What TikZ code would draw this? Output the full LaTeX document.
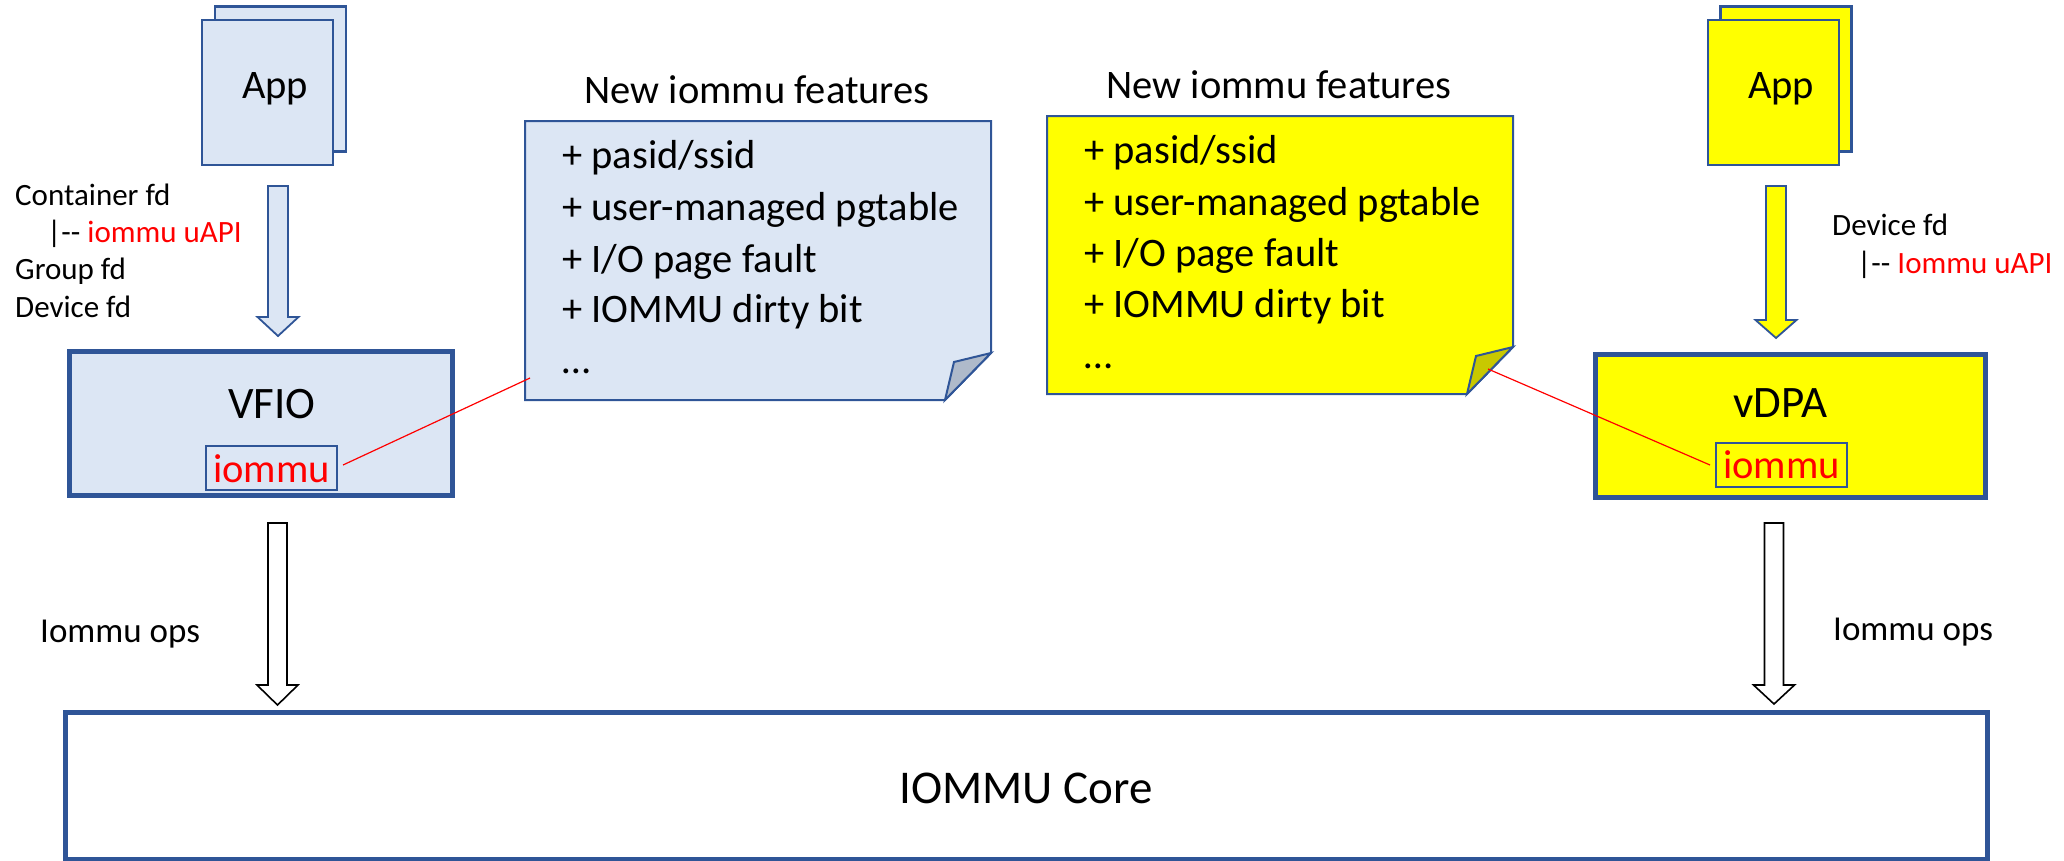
\documentclass[tikz,border=0pt]{standalone}
\usepackage{fontspec}
\setmainfont{Carlito}
\usetikzlibrary{calc}
\definecolor{lblue}{HTML}{DCE6F4}
\definecolor{bdr}{HTML}{2F5597}
\definecolor{foldblue}{HTML}{AFBACA}
\definecolor{yel}{HTML}{FFFF00}
\definecolor{foldyel}{HTML}{C8C800}
\definecolor{rd}{HTML}{FF0000}
\newcommand\blkarrow[7]{%
  \draw[#1] ({#2-#6},#3) -- ({#2+#6},#3) -- ({#2+#6},#4) -- ({#2+#7},#4) -- (#2,#5) -- ({#2-#7},#4) -- ({#2-#6},#4) -- cycle;}
\begin{document}
\begin{tikzpicture}[x=1pt,y=-1pt,
  appbox/.style={draw=bdr, line width=2.5pt, inner sep=0, outer sep=0, minimum width=131pt, minimum height=145pt},
  bigbox/.style={draw=bdr, line width=5pt, inner sep=0, outer sep=0},
  mmubox/.style={draw=bdr, line width=2pt, inner sep=0, outer sep=0, minimum width=131pt, minimum height=44pt},
  notebox/.style={draw=bdr, line width=2pt, line join=miter},
  upblock/.style={draw=bdr, line width=1.8pt, line join=miter},
  opsblock/.style={draw=black, fill=white, line width=1.6pt, line join=miter},
  redline/.style={draw=rd, line width=1.2pt},
  lbl/.style={inner sep=0, anchor=base west},
  ctr/.style={inner sep=0, anchor=base},
  fsmall/.style={font=\fontsize{31pt}{37pt}\selectfont},
  fnote/.style={font=\fontsize{40.5pt}{49pt}\selectfont},
  fbig/.style={font=\fontsize{45pt}{54pt}\selectfont},
  fops/.style={font=\fontsize{35pt}{42pt}\selectfont},
]
\useasboundingbox (0,0) rectangle (2064,860);

% ---------- App stacks ----------
\node[appbox, fill=lblue] (appLb) at (280.5,79) {};
\node[appbox, fill=lblue] (appL) at (267.5,92.5) {};
\node[ctr, fnote] (appLt) at (275,98) {App};
\node[appbox, fill=yel] (appRb) at (1786,79) {};
\node[appbox, fill=yel] (appR) at (1773.5,92.5) {};
\node[ctr, fnote] (appRt) at (1781,98) {App};

% ---------- App -> module arrows ----------
\blkarrow{upblock, fill=lblue}{278}{186}{317}{336}{10}{20.5}
\blkarrow{upblock, fill=yel}{1776}{186}{320}{338}{10}{20.5}

% ---------- left labels ----------
\node[lbl, fsmall] (cfd) at (15,205) {Container fd};
\node[lbl, fsmall] (cua) at (47,242) {|-{}- \textcolor{rd}{iommu uAPI}};
\node[lbl, fsmall] (gfd) at (15,279) {Group fd};
\node[lbl, fsmall] (dfd) at (15,317) {Device fd};
% right labels
\node[lbl, fsmall] (rdfd) at (1832,235) {Device fd};
\node[lbl, fsmall] (rua) at (1857,273) {|-{}- \textcolor{rd}{Iommu uAPI}};

% ---------- VFIO / vDPA ----------
\node[bigbox, fill=lblue, minimum width=383pt, minimum height=144pt] (vfio) at (261,423.5) {};
\node[ctr, fbig] (vfiot) at (272,418) {VFIO};
\node[mmubox, fill=lblue] (vfiom) at (271.5,468) {};
\node[ctr, fnote, text=rd] (vfiomt) at (271.5,482) {iommu};

\node[bigbox, fill=yel, minimum width=390pt, minimum height=143pt] (vdpa) at (1790.5,426) {};
\node[ctr, fbig] (vdpat) at (1780,417) {vDPA};
\node[mmubox, fill=yel] (vdpam) at (1781.5,465) {};
\node[ctr, fnote, text=rd] (vdpamt) at (1781.5,478) {iommu};

% ---------- notes ----------
\node[ctr, fnote] (ttlL) at (757,103) {New iommu features};
\draw[notebox, fill=lblue] (525,121) -- (991,121) -- (991,353) -- (945,400) -- (525,400) -- cycle;
\draw[notebox, fill=foldblue] (945,400) -- (954,362) -- (991,353) -- cycle;
\node[lbl, fnote] (nl1) at (562,168) {+ pasid/ssid};
\node[lbl, fnote] (nl2) at (562,220) {+ user-managed pgtable};
\node[lbl, fnote] (nl3) at (562,272) {+ I/O page fault};
\node[lbl, fnote] (nl4) at (562,322) {+ IOMMU dirty bit};
\node[lbl, fnote] (nl5) at (562,373) {…};
\coordinate (noteLpt) at (530,378);

\node[ctr, fnote] (ttlR) at (1279,98) {New iommu features};
\draw[notebox, fill=yel] (1047,116) -- (1513,116) -- (1513,347) -- (1467,394) -- (1047,394) -- cycle;
\draw[notebox, fill=foldyel] (1467,394) -- (1476,356) -- (1513,347) -- cycle;
\node[lbl, fnote] (nr1) at (1084,163) {+ pasid/ssid};
\node[lbl, fnote] (nr2) at (1084,215) {+ user-managed pgtable};
\node[lbl, fnote] (nr3) at (1084,266) {+ I/O page fault};
\node[lbl, fnote] (nr4) at (1084,317) {+ IOMMU dirty bit};
\node[lbl, fnote] (nr5) at (1084,368) {…};
\coordinate (noteRpt) at (1488,369);

% ---------- red connectors ----------
\draw[redline] ([xshift=6pt,yshift=3pt]vfiom.east) -- (noteLpt);
\draw[redline] ([xshift=-6pt]vdpam.west) -- (noteRpt);

% ---------- ops arrows ----------
\blkarrow{opsblock}{277.5}{523}{685}{705}{9.5}{20.5}
\blkarrow{opsblock}{1774}{523}{685}{704}{9.5}{20.5}
\node[lbl, fops] (opsL) at (40,642) {Iommu ops};
\node[lbl, fops] (opsR) at (1833,640) {Iommu ops};

% ---------- IOMMU core ----------
\draw[bigbox, fill=white] (65,712.5) rectangle (1987.5,859.5);
\node[ctr, font=\fontsize{47pt}{56pt}\selectfont] (core) at (1026,803) {IOMMU Core};
\end{tikzpicture}
\end{document}
